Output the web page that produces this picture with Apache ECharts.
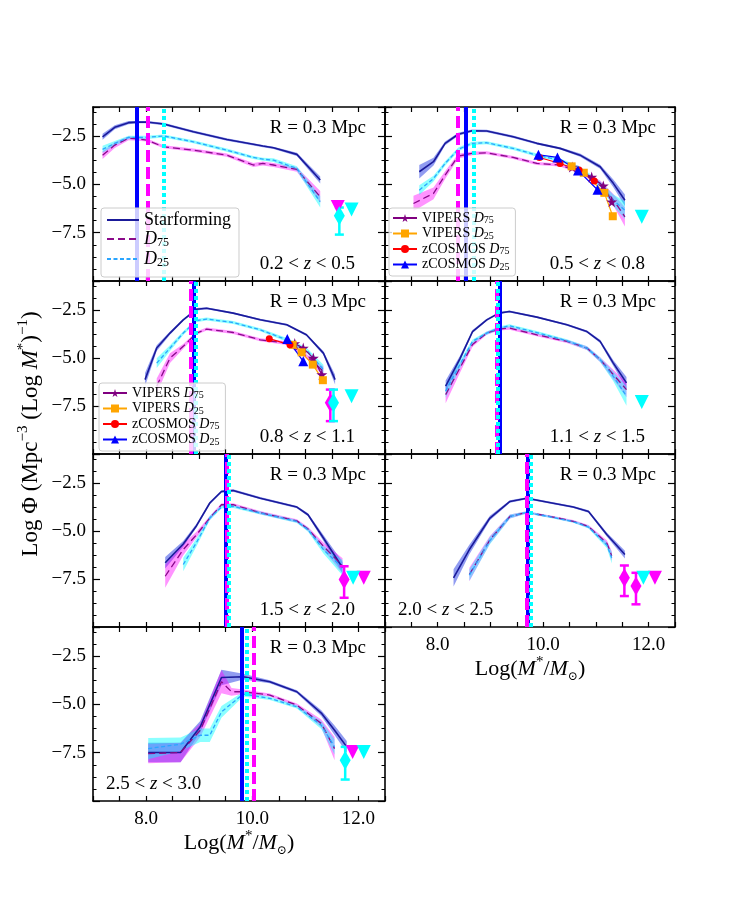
<!DOCTYPE html>
<html>
<head>
<meta charset="utf-8">
<script src="https://cdn.jsdelivr.net/npm/echarts@6/dist/echarts.min.js"></script>
<style>
  html, body { margin: 0; background: #fff; }
  #chart { width: 750px; height: 900px; }
</style>
</head>
<body>
<div id="chart"></div>
<script>
// ---------------- data ----------------
// each panel: stellar mass bins, log phi for Starforming / D75 / D25 and band half widths
// cuts = mass completeness limits [Starforming, D75, D25]

// 0.2 < z < 0.5
const p1Mass   = [7.18, 7.41, 7.67, 7.85, 8.01, 8.33, 8.89, 9.52, 10.02, 10.20, 10.40, 10.84, 11.28];
const p1SF     = [-2.54, -2.05, -1.81, -1.78, -1.78, -1.88, -2.28, -2.68, -2.93, -3.02, -3.11, -3.45, -4.78];
const p1SFErr  = [0.15, 0.1, 0.08, 0.06, 0.06, 0.06, 0.06, 0.06, 0.06, 0.06, 0.06, 0.08, 0.18];
const p1D75    = [-3.49, -2.97, -2.62, -2.65, -2.71, -3.06, -3.23, -3.49, -4.0, -3.92, -4.0, -4.23, -5.65];
const p1D75Err = [0.2, 0.15, 0.1, 0.1, 0.08, 0.08, 0.08, 0.08, 0.1, 0.1, 0.1, 0.12, 0.3];
const p1D25    = [-3.19, -2.88, -2.57, -2.57, -2.57, -2.50, -2.80, -3.23, -3.61, -3.70, -3.75, -4.18, -5.9];
const p1D25Err = [0.18, 0.12, 0.08, 0.08, 0.08, 0.08, 0.08, 0.08, 0.08, 0.08, 0.1, 0.12, 0.3];
const p1Cuts   = [7.82, 8.04, 8.34];

// 0.5 < z < 0.8
const p2Mass   = [7.54, 7.65, 7.92, 8.14, 8.39, 8.65, 8.93, 9.43, 9.88, 10.32, 10.70, 11.08, 11.33, 11.55];
const p2SF     = [null, -4.35, -3.83, -2.88, -2.41, -2.23, -2.24, -2.54, -2.88, -3.14, -3.49, -4.09, -4.95, -5.82];
const p2SFErr  = [null, 0.35, 0.2, 0.1, 0.08, 0.06, 0.06, 0.06, 0.06, 0.06, 0.08, 0.1, 0.2, 0.3];
const p2D75    = [-5.99, null, -5.47, -4.52, -3.54, -3.40, -3.37, -3.61, -3.92, -4.0, -4.35, -4.95, -5.8, -6.68];
const p2D75Err = [0.4, null, 0.3, 0.2, 0.12, 0.1, 0.08, 0.08, 0.08, 0.08, 0.1, 0.15, 0.3, 0.5];
const p2D25    = [null, -5.30, -4.70, -3.92, -3.19, -2.88, -2.85, -3.14, -3.49, -3.75, -4.18, -5.0, -5.82, -6.34];
const p2D25Err = [null, 0.25, 0.15, 0.12, 0.1, 0.08, 0.08, 0.08, 0.08, 0.08, 0.1, 0.15, 0.3, 0.45];
const p2Cuts   = [8.54, 8.38, 8.69];

// 0.8 < z < 1.1
const p3Mass   = [7.98, 8.20, 8.45, 8.70, 8.95, 9.14, 9.64, 10.15, 10.65, 11.02, 11.34, 11.56];
const p3SF     = [-6.13, -4.49, -3.71, -3.02, -2.47, -2.42, -2.67, -3.02, -3.28, -3.80, -4.75, -6.13];
const p3SFErr  = [0.35, 0.15, 0.08, 0.06, 0.06, 0.05, 0.05, 0.05, 0.05, 0.06, 0.1, 0.25];
const p3D75    = [null, -6.47, -5.01, -4.40, -3.71, -3.50, -3.68, -4.06, -4.23, -4.92, -5.70, null];
const p3D75Err = [null, 0.4, 0.25, 0.12, 0.08, 0.08, 0.08, 0.08, 0.1, 0.12, 0.25, null];
const p3D25    = [null, -5.27, -4.49, -3.71, -3.06, -2.98, -3.16, -3.54, -4.06, -4.58, -5.61, null];
const p3D25Err = [null, 0.25, 0.15, 0.1, 0.08, 0.08, 0.08, 0.08, 0.1, 0.12, 0.25, null];
const p3Cuts   = [8.90, 8.84, 8.94];

// 1.1 < z < 1.5
const p4Mass   = [8.15, 8.42, 8.66, 8.93, 9.16, 9.36, 9.88, 10.45, 10.83, 11.08, 11.33, 11.58];
const p4SF     = [-6.47, -5.05, -3.63, -3.02, -2.67, -2.59, -2.88, -3.28, -3.63, -4.14, -5.27, -6.30];
const p4SFErr  = [0.3, 0.15, 0.08, 0.06, 0.05, 0.05, 0.05, 0.05, 0.06, 0.08, 0.15, 0.3];
const p4D75    = [-6.91, -5.53, -4.30, -3.71, -3.50, -3.45, -3.80, -4.14, -4.49, -5.09, -5.87, -6.65];
const p4D75Err = [0.45, 0.25, 0.12, 0.08, 0.08, 0.08, 0.08, 0.08, 0.1, 0.12, 0.25, 0.4];
const p4D25    = [-6.73, -5.35, -4.14, -3.71, -3.45, -3.33, -3.68, -4.11, -4.49, -5.09, -5.96, -6.99];
const p4D25Err = [0.35, 0.2, 0.1, 0.08, 0.08, 0.08, 0.08, 0.08, 0.1, 0.12, 0.25, 0.5];
const p4Cuts   = [9.18, 9.11, 9.13];

// 1.5 < z < 2.0
const p5Mass   = [8.36, 8.70, 8.95, 9.20, 9.42, 9.64, 10.15, 10.84, 11.05, 11.34, 11.70];
const p5SF     = [-6.66, -5.68, -4.73, -3.55, -2.95, -2.90, -3.30, -3.76, -4.16, -5.37, -6.92];
const p5SFErr  = [0.3, 0.15, 0.1, 0.08, 0.06, 0.06, 0.06, 0.06, 0.08, 0.15, 0.3];
const p5D75    = [-7.36, -5.97, -5.20, -4.33, -3.64, -3.64, -4.05, -4.48, -4.90, -5.80, -6.82];
const p5D75Err = [0.6, 0.3, 0.15, 0.1, 0.08, 0.08, 0.08, 0.08, 0.1, 0.2, 0.4];
const p5D25    = [null, -6.75, -5.6, -4.33, -3.76, -3.73, -4.07, -4.51, -4.94, -5.97, -6.92];
const p5D25Err = [null, 0.35, 0.2, 0.12, 0.08, 0.08, 0.08, 0.08, 0.1, 0.2, 0.4];
const p5Cuts   = [9.50, 9.52, 9.55];

// 2.0 < z < 2.5
const p6Mass   = [8.30, 8.60, 8.99, 9.37, 9.69, 10.19, 10.57, 10.86, 11.21, 11.30, 11.55];
const p6SF     = [-7.44, -5.97, -4.33, -3.47, -3.30, -3.56, -3.76, -3.99, -5.20, null, -6.23];
const p6SFErr  = [0.45, 0.25, 0.12, 0.06, 0.05, 0.05, 0.05, 0.06, 0.1, null, 0.2];
const p6D75    = [null, -7.27, -5.46, -4.25, -4.04, -4.28, -4.50, -4.77, -5.65, -6.30, null];
const p6D75Err = [null, 0.35, 0.2, 0.1, 0.06, 0.06, 0.06, 0.08, 0.15, 0.25, null];
const p6D25    = [null, -7.30, -5.50, -4.25, -4.04, -4.30, -4.52, -4.80, -5.75, -6.40, null];
const p6D25Err = [null, 0.3, 0.2, 0.1, 0.06, 0.06, 0.06, 0.08, 0.15, 0.3, null];
const p6Cuts   = [9.71, 9.69, 9.76];

// 2.5 < z < 3.0
const p7Mass   = [8.04, 8.65, 9.02, 9.20, 9.42, 9.61, 9.83, 10.33, 10.84, 11.30, 11.55, 11.78];
const p7SF     = [-7.49, -7.49, -6.16, null, -3.61, null, -3.57, -3.83, -4.35, -5.45, -6.34, -7.20];
const p7SFErr  = [0.5, 0.5, 0.3, null, 0.4, null, 0.15, 0.08, 0.08, 0.15, 0.25, 0.3];
const p7D75    = [-7.55, -7.49, -6.34, null, -3.83, -4.35, -4.35, -4.52, -5.04, -5.99, -7.29, null];
const p7D75Err = [0.5, 0.5, 0.35, null, 0.6, 0.2, 0.12, 0.08, 0.08, 0.2, 0.6, null];
const p7D25    = [-7.29, -7.06, -6.60, -6.60, -5.39, null, -4.47, -4.69, -5.13, -6.08, -7.20, null];
const p7D25Err = [0.55, 0.35, 0.35, 0.35, 0.3, null, 0.12, 0.08, 0.08, 0.2, 0.4, null];
const p7Cuts   = [9.80, 10.02, 9.89];

// upper limits [mass, logphi] and single points [mass, logphi, low, high]
const p1D75Lim = [[11.61, -6.17]];
const p1D25Lim = [[11.87, -6.30]];
const p1D25Pts = [[11.64, -6.63, -7.60, -6.20]];
const p2D25Lim = [[11.87, -6.68]];
const p3D25Lim = [[11.87, -6.99]];
const p3D75Pts = [[11.47, -7.34, -8.29, -6.65]];
const p3D25Pts = [[11.53, -7.34, -8.29, -6.65]];
const p4D25Lim = [[11.87, -7.30]];
const p5D75Lim = [[12.10, -7.44]];
const p5D25Lim = [[11.90, -7.44]];
const p5D75Pts = [[11.73, -7.53, -8.48, -6.84]];
const p6D75Lim = [[12.12, -7.44]];
const p6D25Lim = [[11.90, -7.44]];
const p6D75Pts = [[11.54, -7.44, -8.39, -6.80], [11.76, -7.87, -8.82, -7.18]];
const p7D75Lim = [[11.89, -7.46]];
const p7D25Lim = [[12.10, -7.46]];
const p7D25Pts = [[11.75, -7.89, -8.89, -7.20]];

// VIPERS / zCOSMOS comparison points
const p2VipD75 = [[10.55, -4.10], [10.92, -4.62], [11.14, -5.08], [11.30, -5.90]];
const p2VipD25 = [[10.54, -4.07], [10.77, -4.40], [11.16, -5.44], [11.32, -6.65]];
const p2ZcD75  = [[9.93, -3.61], [10.32, -3.92], [10.68, -4.26], [10.97, -4.83]];
const p2ZcD25  = [[9.91, -3.47], [10.27, -3.61], [10.66, -4.28], [11.03, -5.28]];
const p3VipD75 = [[10.80, -4.25], [10.96, -4.49], [11.15, -5.01], [11.31, -5.87]];
const p3VipD25 = [[10.76, -4.32], [10.93, -4.71], [11.14, -5.35], [11.33, -6.16]];
const p3ZcD75  = [[10.32, -4.00], [10.71, -4.32]];
const p3ZcD25  = [[10.66, -4.02], [10.96, -5.18]];

const zBins = [['0.2', '0.5'], ['0.5', '0.8'], ['0.8', '1.1'], ['1.1', '1.5'], ['1.5', '2.0'], ['2.0', '2.5'], ['2.5', '3.0']];
const xTickLabels = [8, 10, 12];
const yTickLabels = [-2.5, -5, -7.5];

// ---------------- layout / style ----------------
const FONT = 'Liberation Serif';
const COLS = [{ left: 93, width: 292 }, { left: 385, width: 290 }];
const ROWS = [{ top: 107, height: 174 }, { top: 281, height: 173 }, { top: 454, height: 173 }, { top: 627, height: 174 }];
const BAND = { sf: 'rgba(55,75,230,0.55)', d75: 'rgba(255,0,255,0.42)', d25: 'rgba(0,255,255,0.45)' };
const LINE = { sf: '#1a1a9a', d75: '#8a0a8a', d25: '#2aa5ff' };
const MAG = '#ff00ff', CYAN = '#00ffff';
const STAR = 'path://M50,0 L61,35 L98,35 L68,57 L79,91 L50,70 L21,91 L32,57 L2,35 L39,35 Z';

const panels = [
  { col: 0, row: 0, mass: p1Mass, sf: p1SF, sfErr: p1SFErr, d75: p1D75, d75Err: p1D75Err, d25: p1D25, d25Err: p1D25Err, cuts: p1Cuts,
    d75Lim: p1D75Lim, d25Lim: p1D25Lim, d75Pts: [], d25Pts: p1D25Pts, zLeft: false },
  { col: 1, row: 0, mass: p2Mass, sf: p2SF, sfErr: p2SFErr, d75: p2D75, d75Err: p2D75Err, d25: p2D25, d25Err: p2D25Err, cuts: p2Cuts,
    d75Lim: [], d25Lim: p2D25Lim, d75Pts: [], d25Pts: [], surveys: [p2VipD75, p2VipD25, p2ZcD75, p2ZcD25], zLeft: false },
  { col: 0, row: 1, mass: p3Mass, sf: p3SF, sfErr: p3SFErr, d75: p3D75, d75Err: p3D75Err, d25: p3D25, d25Err: p3D25Err, cuts: p3Cuts,
    d75Lim: [], d25Lim: p3D25Lim, d75Pts: p3D75Pts, d25Pts: p3D25Pts, surveys: [p3VipD75, p3VipD25, p3ZcD75, p3ZcD25], zLeft: false },
  { col: 1, row: 1, mass: p4Mass, sf: p4SF, sfErr: p4SFErr, d75: p4D75, d75Err: p4D75Err, d25: p4D25, d25Err: p4D25Err, cuts: p4Cuts,
    d75Lim: [], d25Lim: p4D25Lim, d75Pts: [], d25Pts: [], zLeft: false },
  { col: 0, row: 2, mass: p5Mass, sf: p5SF, sfErr: p5SFErr, d75: p5D75, d75Err: p5D75Err, d25: p5D25, d25Err: p5D25Err, cuts: p5Cuts,
    d75Lim: p5D75Lim, d25Lim: p5D25Lim, d75Pts: p5D75Pts, d25Pts: [], zLeft: false },
  { col: 1, row: 2, mass: p6Mass, sf: p6SF, sfErr: p6SFErr, d75: p6D75, d75Err: p6D75Err, d25: p6D25, d25Err: p6D25Err, cuts: p6Cuts,
    d75Lim: p6D75Lim, d25Lim: p6D25Lim, d75Pts: p6D75Pts, d25Pts: [], zLeft: true, xLabels: true },
  { col: 0, row: 3, mass: p7Mass, sf: p7SF, sfErr: p7SFErr, d75: p7D75, d75Err: p7D75Err, d25: p7D25, d25Err: p7D25Err, cuts: p7Cuts,
    d75Lim: p7D75Lim, d25Lim: p7D25Lim, d75Pts: [], d25Pts: p7D25Pts, zLeft: true, xLabels: true }
];

const SURVEY = [
  { name: 'VIPERS D75', color: '#800080', symbol: STAR, size: 11 },
  { name: 'VIPERS D25', color: '#ffa500', symbol: 'rect', size: 8 },
  { name: 'zCOSMOS D75', color: '#ff0000', symbol: 'circle', size: 7 },
  { name: 'zCOSMOS D25', color: '#0000ff', symbol: 'triangle', size: 10 }
];

// ---------------- builders ----------------
function xAxisCfg(i, pos, showLabels) {
  return {
    type: 'value', gridIndex: i, position: pos, min: 7, max: 12.5, interval: 0.5,
    axisLine: { show: true, onZero: false, lineStyle: { color: '#000', width: 1.6 } },
    axisTick: { show: true, inside: true, length: 5, lineStyle: { color: '#000', width: 1.2 } },
    axisLabel: {
      show: showLabels, margin: 9, color: '#000', fontFamily: FONT, fontSize: 19,
      formatter: v => xTickLabels.indexOf(v) >= 0 ? v.toFixed(1) : ''
    },
    splitLine: { show: false }
  };
}

function yAxisCfg(i, pos, showLabels) {
  return {
    type: 'value', gridIndex: i, position: pos, min: -10, max: -1, interval: 2.5,
    axisLine: { show: true, onZero: false, lineStyle: { color: '#000', width: 1.6 } },
    axisTick: { show: true, inside: true, length: 7, lineStyle: { color: '#000', width: 1.2 } },
    minorTick: { show: true, splitNumber: 4, length: 3.5, lineStyle: { color: '#000', width: 1 } },
    axisLabel: {
      show: showLabels, margin: 7, color: '#000', fontFamily: FONT, fontSize: 19,
      formatter: v => yTickLabels.indexOf(v) >= 0 ? '\u2212' + Math.abs(v).toFixed(1) : ''
    },
    splitLine: { show: false }
  };
}

// shaded uncertainty band drawn as one polygon
function band(ax, mass, vals, errs, color) {
  return {
    type: 'custom', xAxisIndex: ax, yAxisIndex: ax, z: 2, silent: true,
    data: [[mass[0], -5]],
    renderItem: function (params, api) {
      const top = [], bot = [];
      mass.forEach((m, k) => {
        if (vals[k] == null) return;
        top.push(api.coord([m, vals[k] + errs[k]]));
        bot.unshift(api.coord([m, vals[k] - errs[k]]));
      });
      return { type: 'polygon', shape: { points: top.concat(bot) }, style: { fill: color } };
    }
  };
}

function curve(ax, name, mass, vals, color, dash, width, cut, cutStyle) {
  const pts = [];
  mass.forEach((m, k) => { if (vals[k] != null) pts.push([m, vals[k]]); });
  return {
    type: 'line', name: name, xAxisIndex: ax, yAxisIndex: ax, z: 4,
    data: pts, symbol: 'none', silent: true,
    lineStyle: { color: color, width: width, type: dash },
    itemStyle: { color: color },
    markLine: {
      silent: true, symbol: ['none', 'none'], label: { show: false },
      lineStyle: cutStyle, emphasis: { disabled: true },
      data: [{ xAxis: cut }]
    }
  };
}

function errBars(ax, pts, color) {
  return {
    type: 'custom', xAxisIndex: ax, yAxisIndex: ax, z: 6, silent: true,
    data: pts,
    renderItem: function (params, api) {
      const x = api.value(0);
      const a = api.coord([x, api.value(3)]);
      const b = api.coord([x, api.value(2)]);
      const st = { stroke: color, lineWidth: 2.5 };
      return {
        type: 'group', children: [
          { type: 'line', shape: { x1: a[0], y1: a[1], x2: b[0], y2: b[1] }, style: st },
          { type: 'line', shape: { x1: a[0] - 4.5, y1: a[1], x2: a[0] + 4.5, y2: a[1] }, style: st },
          { type: 'line', shape: { x1: b[0] - 4.5, y1: b[1], x2: b[0] + 4.5, y2: b[1] }, style: st }
        ]
      };
    }
  };
}

function marks(ax, pts, color, symbol, size, rotate, z) {
  return {
    type: 'scatter', xAxisIndex: ax, yAxisIndex: ax, z: z, silent: true,
    symbol: symbol, symbolSize: size, symbolRotate: rotate,
    itemStyle: { color: color, opacity: 1 }, data: pts
  };
}

// ---------------- assemble ----------------
const grids = [], xAxes = [], yAxes = [], series = [], graphics = [];

panels.forEach((p, i) => {
  const c = COLS[p.col], r = ROWS[p.row];
  grids.push({ left: c.left, top: r.top, width: c.width, height: r.height, outerBoundsMode: 'none' });
  xAxes.push(xAxisCfg(i, 'bottom', !!p.xLabels));
  xAxes.push(xAxisCfg(i, 'top', false));
  yAxes.push(yAxisCfg(i, 'left', p.col === 0));
  yAxes.push(yAxisCfg(i, 'right', false));
  const ax = 2 * i;

  series.push(band(ax, p.mass, p.sf, p.sfErr, BAND.sf));
  series.push(band(ax, p.mass, p.d75, p.d75Err, BAND.d75));
  series.push(band(ax, p.mass, p.d25, p.d25Err, BAND.d25));
  series.push(curve(ax, 'Starforming', p.mass, p.sf, LINE.sf, 'solid', 1.6, p.cuts[0],
    { color: '#0000ff', width: 4, type: 'solid' }));
  series.push(curve(ax, 'D75', p.mass, p.d75, LINE.d75, [7, 4], 1.3, p.cuts[1],
    { color: MAG, width: 4, type: [12, 5] }));
  series.push(curve(ax, 'D25', p.mass, p.d25, LINE.d25, [4, 2.5], 1.3, p.cuts[2],
    { color: CYAN, width: 4, type: [4, 3] }));

  if (p.surveys) {
    p.surveys.forEach((pts, k) => {
      const s = SURVEY[k];
      series.push({
        type: 'line', name: s.name, xAxisIndex: ax, yAxisIndex: ax, z: 5, silent: true,
        data: pts, symbol: s.symbol, symbolSize: s.size, showSymbol: true,
        lineStyle: { color: s.color, width: 1.2 }, itemStyle: { color: s.color }
      });
    });
  }

  series.push(marks(ax, p.d75Lim, MAG, 'triangle', 14, 180, 6));
  series.push(marks(ax, p.d25Lim, CYAN, 'triangle', 14, 180, 6));
  series.push(errBars(ax, p.d75Pts, MAG));
  series.push(marks(ax, p.d75Pts, MAG, 'diamond', [11, 19], 0, 7));
  series.push(errBars(ax, p.d25Pts, CYAN));
  series.push(marks(ax, p.d25Pts, CYAN, 'diamond', [11, 19], 0, 7));

  // panel annotations
  const right = c.left + c.width, bottom = r.top + r.height;
  graphics.push({
    type: 'text', x: right - 19, y: r.top + 21, z: 100,
    style: { text: 'R = 0.3 Mpc', fontFamily: FONT, fontSize: 19, fill: '#000', align: 'right', verticalAlign: 'middle' }
  });
  const zr = zBins[i];
  graphics.push({
    type: 'text', x: p.zLeft ? c.left + 13 : right - 30, y: bottom - 17, z: 100,
    style: {
      text: zr[0] + ' < {i|z} < ' + zr[1], fontFamily: FONT, fontSize: 19, fill: '#000',
      align: p.zLeft ? 'left' : 'right', verticalAlign: 'middle',
      rich: { i: { fontFamily: FONT, fontSize: 19, fontStyle: 'italic', fill: '#000' } }
    }
  });
});

// axis titles
const xTitleRich = {
  t: { fontFamily: FONT, fontSize: 22, lineHeight: 28, fill: '#000' },
  i: { fontFamily: FONT, fontSize: 22, lineHeight: 28, fontStyle: 'italic', fill: '#000' },
  sup: { fontFamily: FONT, fontSize: 15, lineHeight: 17, verticalAlign: 'top', fill: '#000' },
  sub: { fontFamily: 'DejaVu Serif', fontSize: 12, lineHeight: 13, verticalAlign: 'bottom', fill: '#000' }
};
const xTitle = '{t|Log(}{i|M}{sup|*}{t|/}{i|M}{sub|\u2299}{t|)}';
graphics.push({ type: 'text', x: 239, y: 843, z: 100,
  style: { text: xTitle, rich: xTitleRich, align: 'center', verticalAlign: 'middle' } });
graphics.push({ type: 'text', x: 530, y: 669, z: 100,
  style: { text: xTitle, rich: xTitleRich, align: 'center', verticalAlign: 'middle' } });

graphics.push({
  type: 'text', x: 31, y: 434, rotation: Math.PI / 2, z: 100,
  style: {
    text: '{t|Log \u03a6 (Mpc}{sup|\u22123}{t| (Log }{i|M}{sup|*}{t|)}{sup|\u22121}{t|)}',
    align: 'center', verticalAlign: 'middle',
    rich: {
      t: { fontFamily: FONT, fontSize: 23, lineHeight: 30, fill: '#000' },
      i: { fontFamily: FONT, fontSize: 23, lineHeight: 30, fontStyle: 'italic', fill: '#000' },
      sup: { fontFamily: FONT, fontSize: 15, lineHeight: 19, verticalAlign: 'top', fill: '#000' }
    }
  }
});

// legends
const legendText = {
  'Starforming': '{t|Starforming}',
  'D75': '{i|D}{s|75}',
  'D25': '{i|D}{s|25}',
  'VIPERS D75': '{t|VIPERS }{i|D}{s|75}',
  'VIPERS D25': '{t|VIPERS }{i|D}{s|25}',
  'zCOSMOS D75': '{t|zCOSMOS }{i|D}{s|75}',
  'zCOSMOS D25': '{t|zCOSMOS }{i|D}{s|25}'
};
function legendRich(size, lh, subSize) {
  return {
    t: { fontFamily: FONT, fontSize: size, lineHeight: lh, color: '#000' },
    i: { fontFamily: FONT, fontSize: size, lineHeight: lh, fontStyle: 'italic', color: '#000' },
    s: { fontFamily: FONT, fontSize: subSize, lineHeight: subSize, verticalAlign: 'bottom', color: '#000' }
  };
}
const legendBase = {
  orient: 'vertical', selectedMode: false, z: 20,
  backgroundColor: 'rgba(255,255,255,0.8)', borderColor: '#cccccc', borderWidth: 1, borderRadius: 3,
  formatter: name => legendText[name]
};
const surveyNames = SURVEY.map(s => s.name);

const option = {
  animation: false,
  backgroundColor: '#fff',
  grid: grids,
  xAxis: xAxes,
  yAxis: yAxes,
  legend: [
    Object.assign({}, legendBase, {
      left: 101, top: 208, data: ['Starforming', 'D75', 'D25'],
      itemWidth: 32, itemHeight: 12, itemGap: 1, padding: [3, 8, 8, 5],
      itemStyle: { opacity: 0 },
      textStyle: { fontFamily: FONT, fontSize: 18, rich: legendRich(18, 20, 12) }
    }),
    Object.assign({}, legendBase, {
      left: 389, top: 208, data: surveyNames,
      itemWidth: 24, itemHeight: 10, itemGap: 1, padding: [3, 6, 4, 3],
      textStyle: { fontFamily: FONT, fontSize: 14, rich: legendRich(14, 15, 10) }
    }),
    Object.assign({}, legendBase, {
      left: 99, top: 383, data: surveyNames,
      itemWidth: 24, itemHeight: 10, itemGap: 1, padding: [3, 6, 4, 3],
      textStyle: { fontFamily: FONT, fontSize: 14, rich: legendRich(14, 15, 10) }
    })
  ],
  graphic: graphics,
  series: series
};

const chart = echarts.init(document.getElementById('chart'), null, { renderer: 'canvas' });
chart.setOption(option);
</script>
</body>
</html>
